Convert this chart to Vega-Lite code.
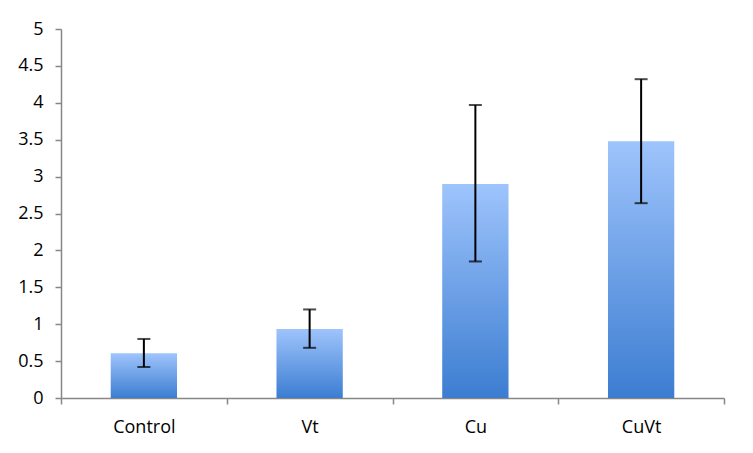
{
  "$schema": "https://vega.github.io/schema/vega-lite/v6.json",
  "width": 663,
  "height": 369,
  "autosize": "none",
  "padding": {"left": 61, "top": 29, "right": 29, "bottom": 55},
  "background": "white",
  "config": {
    "view": {"stroke": null},
    "font": "Open Sans",
    "axisY": {
      "values": [0, 0.5, 1, 1.5, 2, 2.5, 3, 3.5, 4, 4.5, 5],
      "format": "~g", "labelOverlap": false, "title": null,
      "grid": false, "labelFontSize": 18, "labelColor": "black",
      "domainColor": "#878787", "tickColor": "#878787", "tickSize": 6,
      "labelPadding": 12, "domainWidth": 1.5, "tickWidth": 1.5, "labelFlush": false
    }
  },
  "data": {
    "values": [
      {"group": "Control", "mean": 0.605, "lo": 0.42, "hi": 0.80},
      {"group": "Vt", "mean": 0.935, "lo": 0.68, "hi": 1.20},
      {"group": "Cu", "mean": 2.90, "lo": 1.85, "hi": 3.97},
      {"group": "CuVt", "mean": 3.48, "lo": 2.64, "hi": 4.32}
    ]
  },
  "encoding": {
    "x": {
      "field": "group", "type": "nominal", "sort": null,
      "scale": {"paddingInner": 0, "paddingOuter": 0},
      "axis": {
        "title": null, "labelAngle": 0, "labelFontSize": 18, "labelColor": "black",
        "domainColor": "#878787", "tickColor": "#878787", "tickSize": 6,
        "tickBand": "extent", "labelPadding": 14, "domainWidth": 1.5, "tickWidth": 1.5
      }
    }
  },
  "layer": [
    {
      "mark": {
        "type": "bar", "width": {"band": 0.4},
        "color": {
          "gradient": "linear", "x1": 0, "y1": 0, "x2": 0, "y2": 1,
          "stops": [{"offset": 0, "color": "#9ec4fc"}, {"offset": 1, "color": "#3c7dd1"}]
        }
      },
      "encoding": {
        "y": {
          "field": "mean", "type": "quantitative",
          "scale": {"domain": [0, 5], "nice": false}
        }
      }
    },
    {
      "mark": {"type": "rule", "color": "black", "strokeWidth": 2},
      "encoding": {
        "y": {"field": "lo", "type": "quantitative"},
        "y2": {"field": "hi"}
      }
    },
    {
      "mark": {"type": "tick", "color": "black", "thickness": 2, "size": 13, "orient": "horizontal"},
      "encoding": {"y": {"field": "lo", "type": "quantitative"}}
    },
    {
      "mark": {"type": "tick", "color": "black", "thickness": 2, "size": 13, "orient": "horizontal"},
      "encoding": {"y": {"field": "hi", "type": "quantitative"}}
    }
  ]
}
